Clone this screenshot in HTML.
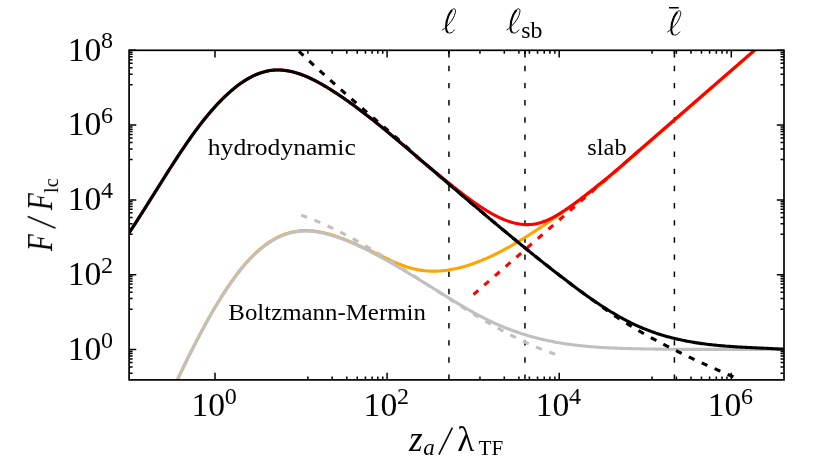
<!DOCTYPE html>
<html><head><meta charset="utf-8"><title>chart</title><style>html,body{margin:0;padding:0;background:#fff}body{width:829px;height:461px;overflow:hidden}</style></head><body>
<svg width="829" height="461" viewBox="0 0 829 461" style="display:block">
<rect width="829" height="461" fill="#fff"/>
<defs><clipPath id="c"><rect x="129.1" y="50.3" width="654.9" height="329.6"/></clipPath></defs>
<g clip-path="url(#c)" fill="none" stroke-linejoin="round" stroke-width="3.1">
<path d="M448.95,379.90 V50.30" stroke="#000" stroke-width="1.5" stroke-dasharray="5.4 11.75"/>
<path d="M524.96,379.90 V50.30" stroke="#000" stroke-width="1.5" stroke-dasharray="5.4 11.75"/>
<path d="M674.40,379.90 V50.30" stroke="#000" stroke-width="1.5" stroke-dasharray="5.4 11.75"/>
<path d="M176.80,380.85 L178.32,377.64 L179.84,374.44 L181.37,371.25 L182.89,368.09 L184.41,364.95 L185.93,361.84 L187.45,358.74 L188.97,355.67 L190.50,352.62 L192.02,349.59 L193.54,346.59 L195.06,343.62 L196.58,340.67 L198.11,337.75 L199.63,334.85 L201.15,331.98 L202.67,329.15 L204.19,326.34 L205.71,323.56 L207.24,320.81 L208.76,318.09 L210.28,315.40 L211.80,312.75 L213.32,310.13 L214.85,307.54 L216.37,304.99 L217.89,302.47 L219.41,299.99 L220.93,297.54 L222.45,295.13 L223.98,292.76 L225.50,290.43 L227.02,288.13 L228.54,285.88 L230.06,283.66 L231.58,281.49 L233.11,279.35 L234.63,277.26 L236.15,275.21 L237.67,273.21 L239.19,271.25 L240.72,269.33 L242.24,267.46 L243.76,265.63 L245.28,263.85 L246.80,262.12 L248.32,260.43 L249.85,258.80 L251.37,257.21 L252.89,255.67 L254.41,254.18 L255.93,252.74 L257.46,251.34 L258.98,250.00 L260.50,248.70 L262.02,247.45 L263.54,246.25 L265.06,245.09 L266.59,243.98 L268.11,242.91 L269.63,241.90 L271.15,240.92 L272.67,240.00 L274.20,239.12 L275.72,238.28 L277.24,237.49 L278.76,236.74 L280.28,236.04 L281.80,235.39 L283.33,234.77 L284.85,234.20 L286.37,233.68 L287.89,233.19 L289.41,232.75 L290.94,232.36 L292.46,232.00 L293.98,231.69 L295.50,231.42 L297.02,231.19 L298.54,230.99 L300.07,230.84 L301.59,230.73 L303.11,230.65 L304.63,230.60 L306.15,230.60 L307.68,230.62 L309.20,230.68 L310.72,230.78 L312.24,230.90 L313.76,231.05 L315.28,231.24 L316.81,231.45 L318.33,231.69 L319.85,231.96 L321.37,232.26 L322.89,232.58 L324.42,232.92 L325.94,233.29 L327.46,233.68 L328.98,234.09 L330.50,234.53 L332.02,234.98 L333.55,235.45 L335.07,235.95 L336.59,236.45 L338.11,236.98 L339.63,237.52 L341.15,238.08 L342.68,238.65 L344.20,239.23 L345.72,239.83 L347.24,240.44 L348.76,241.07 L350.29,241.70 L351.81,242.35 L353.33,243.02 L354.85,243.69 L356.37,244.38 L357.89,245.07 L359.42,245.78 L360.94,246.50 L362.46,247.23 L363.98,247.97 L364.40,247.89 L365.80,248.53 L367.20,249.17 L368.59,249.83 L369.99,250.50 L371.39,251.16 L372.79,251.84 L374.19,252.52 L375.58,253.20 L376.98,253.88 L378.38,254.56 L379.78,255.24 L381.18,255.92 L382.57,256.60 L383.97,257.27 L385.37,257.94 L386.77,258.61 L388.17,259.26 L389.56,259.91 L390.96,260.55 L392.36,261.18 L393.76,261.80 L395.16,262.41 L396.55,263.00 L397.95,263.58 L399.35,264.15 L400.75,264.70 L402.15,265.23 L403.54,265.74 L404.94,266.24 L406.34,266.71 L407.74,267.16 L409.14,267.59 L410.53,268.00 L411.93,268.38 L413.33,268.74 L414.73,269.07 L416.13,269.38 L417.52,269.66 L418.92,269.91 L420.32,270.14 L421.72,270.35 L423.12,270.53 L424.51,270.69 L425.91,270.83 L427.31,270.94 L428.71,271.03 L430.11,271.09 L431.50,271.14 L432.90,271.16 L434.30,271.16 L435.70,271.14 L437.10,271.10 L438.49,271.03 L439.89,270.95 L441.29,270.85 L442.69,270.72 L444.09,270.58 L445.48,270.42 L446.88,270.23 L448.28,270.03 L449.68,269.82 L451.08,269.58 L452.47,269.32 L453.87,269.05 L455.27,268.76 L456.67,268.46 L458.07,268.14 L459.46,267.80 L460.86,267.44 L462.26,267.07 L463.66,266.69 L465.06,266.29 L466.45,265.87 L467.85,265.44 L469.25,264.99 L470.65,264.53 L472.04,264.06 L473.44,263.57 L474.84,263.07 L476.24,262.55 L477.64,262.02 L479.03,261.48 L480.43,260.92 L481.83,260.35 L483.23,259.77 L484.63,259.18 L486.02,258.57 L487.42,257.95 L488.82,257.32 L490.22,256.68 L491.62,256.03 L493.01,255.36 L494.41,254.69 L495.81,254.00 L497.21,253.30 L498.61,252.59 L500.00,251.87 L501.40,251.15 L502.80,250.41 L504.20,249.66 L505.60,248.90 L506.99,248.13 L508.39,247.36 L509.79,246.57 L511.19,245.78 L512.59,244.97 L513.98,244.16 L515.38,243.34 L516.78,242.52 L518.18,241.68 L519.58,240.84 L520.97,239.99 L522.37,239.13 L523.77,238.27 L525.17,237.40 L526.57,236.52 L527.96,235.64 L529.36,234.75 L530.76,233.85 L532.16,232.95 L533.56,232.04 L534.95,231.13 L536.35,230.21 L537.75,229.29 L539.15,228.36 L540.55,227.42 L541.94,226.49 L543.34,225.55 L544.74,224.60 L546.14,223.65 L547.54,222.70 L548.93,221.74 L550.33,220.78 L551.73,219.82 L553.13,218.86 L554.53,217.89 L555.92,216.92 L557.32,215.94 L558.72,214.97 L560.12,213.99 L561.52,213.01 L562.91,212.03 L564.31,211.05 L565.71,210.07 L567.11,209.09 L568.51,208.10 L569.90,207.12 L571.30,206.14 L572.70,205.15 L600.00,185.02 L760.00,45.93" stroke="#ffa500"/>
<path d="M301.20,215.15 L301.84,215.38 L302.48,215.61 L303.12,215.84 L303.76,216.07 L304.40,216.30 L305.04,216.53 L305.68,216.77 L306.32,217.01 L306.97,217.25 L307.61,217.49 L308.25,217.73 L308.89,217.98 L309.53,218.23 L310.17,218.48 L310.81,218.73 L311.45,218.98 L312.09,219.24 L312.73,219.49 L313.37,219.75 L314.01,220.01 L314.65,220.27 L315.29,220.54 L315.93,220.80 L316.57,221.07 L317.22,221.34 L317.86,221.61 L318.50,221.88 L319.14,222.16 L319.78,222.43 L320.42,222.71 L321.06,222.99 L321.70,223.27 L322.34,223.55 L322.98,223.84 L323.62,224.12 L324.26,224.41 L324.90,224.70 L325.54,224.99 L326.18,225.28 L326.82,225.58 L327.46,225.87 L328.11,226.17 L328.75,226.47 L329.39,226.77 L330.03,227.07 L330.67,227.37 L331.31,227.68 L331.95,227.98 L332.59,228.29 L333.23,228.60 L333.87,228.91 L334.51,229.22 L335.15,229.54 L335.79,229.85 L336.43,230.17 L337.07,230.49 L337.71,230.81 L338.35,231.13 L339.00,231.45 L339.64,231.77 L340.28,232.10 L340.92,232.42 L341.56,232.75 L342.20,233.08 L342.84,233.41 L343.48,233.74 L344.12,234.07 L344.76,234.41 L345.40,234.74 L346.04,235.08 L346.68,235.42 L347.32,235.75 L347.96,236.09 L348.60,236.44 L349.25,236.78 L349.89,237.12 L350.53,237.47 L351.17,237.81 L351.81,238.16 L352.45,238.51 L353.09,238.86 L353.73,239.21 L354.37,239.56 L355.01,239.92 L355.65,240.27 L356.29,240.63 L356.93,240.98 L357.57,241.34 L358.21,241.70 L358.85,242.06 L359.49,242.42 L360.14,242.78 L360.78,243.15 L361.42,243.51 L362.06,243.88 L362.70,244.24 L363.34,244.61 L363.98,244.98 L364.62,245.35 L365.26,245.72 L365.90,246.09 L366.54,246.46 L367.18,246.83 L367.82,247.21 L368.46,247.58 L369.10,247.96 L369.74,248.33 L370.38,248.71 L371.03,249.09 L371.67,249.47 L372.31,249.85 L372.95,250.23 L373.59,250.61 L374.23,251.00 L374.87,251.38 L375.51,251.76 L376.15,252.15 L376.79,252.53 L377.43,252.92 L378.07,253.31 L378.71,253.70 L379.35,254.09 L379.99,254.48 L380.63,254.87 L381.28,255.26 L381.92,255.65 L382.56,256.04 L383.20,256.44 L383.84,256.83 L384.48,257.22 L385.12,257.62 L385.76,258.02 L386.40,258.41 L387.04,258.81 L387.68,259.21 L388.32,259.61 L388.96,260.00 L389.60,260.40 L390.24,260.80 L390.88,261.21 L391.52,261.61 L392.17,262.01 L392.81,262.41 L393.45,262.81 L394.09,263.22 L394.73,263.62 L395.37,264.03 L396.01,264.43 L396.65,264.84 L397.29,265.24 L397.93,265.65 L398.57,266.06 L399.21,266.46 L399.85,266.87 L400.49,267.28 L401.13,267.69 L401.77,268.10 L402.42,268.51 L403.06,268.92 L403.70,269.33 L404.34,269.74 L404.98,270.15 L405.62,270.56 L406.26,270.97 L406.90,271.38 L407.54,271.79 L408.18,272.21 L408.82,272.62 L409.46,273.03 L410.10,273.45 L410.74,273.86 L411.38,274.27 L412.02,274.69 L412.66,275.10 L413.31,275.52 L413.95,275.93 L414.59,276.35 L415.23,276.76 L415.87,277.18 L416.51,277.59 L417.15,278.01 L417.79,278.42 L418.43,278.84 L419.07,279.25 L419.71,279.67 L420.35,280.09 L420.99,280.50 L421.63,280.92 L422.27,281.34 L422.91,281.75 L423.55,282.17 L424.20,282.59 L424.84,283.00 L425.48,283.42 L426.12,283.84 L426.76,284.25 L427.40,284.67 L428.04,285.09 L428.68,285.50 L429.32,285.92 L429.96,286.34 L430.60,286.75 L431.24,287.17 L431.88,287.59 L432.52,288.00 L433.16,288.42 L433.80,288.83 L434.45,289.25 L435.09,289.67 L435.73,290.08 L436.37,290.50 L437.01,290.91 L437.65,291.33 L438.29,291.74 L438.93,292.16 L439.57,292.57 L440.21,292.99 L440.85,293.40 L441.49,293.82 L442.13,294.23 L442.77,294.64 L443.41,295.06 L444.05,295.47 L444.69,295.88 L445.34,296.29 L445.98,296.71 L446.62,297.12 L447.26,297.53 L447.90,297.94 L448.54,298.35 L449.18,298.76 L449.82,299.17 L450.46,299.58 L451.10,299.99 L451.74,300.40 L452.38,300.81 L453.02,301.22 L453.66,301.63 L454.30,302.03 L454.94,302.44 L455.58,302.85 L456.23,303.25 L456.87,303.66 L457.51,304.06 L458.15,304.47 L458.79,304.87 L459.43,305.28 L460.07,305.68 L460.71,306.08 L461.35,306.48 L461.99,306.89 L462.63,307.29 L463.27,307.69 L463.91,308.09 L464.55,308.49 L465.19,308.89 L465.83,309.28 L466.48,309.68 L467.12,310.08 L467.76,310.47 L468.40,310.87 L469.04,311.26 L469.68,311.66 L470.32,312.05 L470.96,312.44 L471.60,312.84 L472.24,313.23 L472.88,313.62 L473.52,314.01 L474.16,314.40 L474.80,314.79 L475.44,315.17 L476.08,315.56 L476.72,315.95 L477.37,316.33 L478.01,316.72 L478.65,317.10 L479.29,317.48 L479.93,317.87 L480.57,318.25 L481.21,318.63 L481.85,319.01 L482.49,319.39 L483.13,319.76 L483.77,320.14 L484.41,320.52 L485.05,320.89 L485.69,321.27 L486.33,321.64 L486.97,322.01 L487.62,322.38 L488.26,322.75 L488.90,323.12 L489.54,323.49 L490.18,323.86 L490.82,324.22 L491.46,324.59 L492.10,324.95 L492.74,325.32 L493.38,325.68 L494.02,326.04 L494.66,326.40 L495.30,326.76 L495.94,327.12 L496.58,327.48 L497.22,327.83 L497.86,328.19 L498.51,328.54 L499.15,328.89 L499.79,329.24 L500.43,329.59 L501.07,329.94 L501.71,330.29 L502.35,330.64 L502.99,330.98 L503.63,331.33 L504.27,331.67 L504.91,332.01 L505.55,332.35 L506.19,332.69 L506.83,333.03 L507.47,333.37 L508.11,333.70 L508.75,334.04 L509.40,334.37 L510.04,334.70 L510.68,335.03 L511.32,335.36 L511.96,335.69 L512.60,336.02 L513.24,336.34 L513.88,336.66 L514.52,336.99 L515.16,337.31 L515.80,337.63 L516.44,337.95 L517.08,338.26 L517.72,338.58 L518.36,338.89 L519.00,339.20 L519.65,339.51 L520.29,339.82 L520.93,340.13 L521.57,340.44 L522.21,340.74 L522.85,341.05 L523.49,341.35 L524.13,341.65 L524.77,341.95 L525.41,342.25 L526.05,342.54 L526.69,342.84 L527.33,343.13 L527.97,343.42 L528.61,343.71 L529.25,344.00 L529.89,344.28 L530.54,344.57 L531.18,344.85 L531.82,345.13 L532.46,345.41 L533.10,345.69 L533.74,345.97 L534.38,346.24 L535.02,346.51 L535.66,346.78 L536.30,347.05 L536.94,347.32 L537.58,347.59 L538.22,347.85 L538.86,348.12 L539.50,348.38 L540.14,348.64 L540.78,348.89 L541.43,349.15 L542.07,349.40 L542.71,349.65 L543.35,349.90 L543.99,350.15 L544.63,350.40 L545.27,350.64 L545.91,350.88 L546.55,351.13 L547.19,351.36 L547.83,351.60 L548.47,351.84 L549.11,352.07 L549.75,352.30 L550.39,352.53 L551.03,352.76 L551.68,352.98 L552.32,353.21 L552.96,353.43 L553.60,353.65 L554.24,353.86 L554.88,354.08 L555.52,354.29 L556.16,354.50 L556.80,354.71" stroke="#c0c0c0" stroke-dasharray="6.3 7.9"/>
<path d="M176.80,381.30 L178.32,378.09 L179.84,374.89 L181.37,371.70 L182.89,368.54 L184.41,365.40 L185.93,362.29 L187.45,359.19 L188.97,356.12 L190.50,353.07 L192.02,350.04 L193.54,347.04 L195.06,344.07 L196.58,341.12 L198.11,338.20 L199.63,335.30 L201.15,332.43 L202.67,329.60 L204.19,326.79 L205.71,324.01 L207.24,321.26 L208.76,318.54 L210.28,315.85 L211.80,313.20 L213.32,310.58 L214.85,307.99 L216.37,305.44 L217.89,302.92 L219.41,300.44 L220.93,297.99 L222.45,295.58 L223.98,293.21 L225.50,290.88 L227.02,288.58 L228.54,286.33 L230.06,284.11 L231.58,281.94 L233.11,279.80 L234.63,277.71 L236.15,275.66 L237.67,273.66 L239.19,271.70 L240.72,269.78 L242.24,267.91 L243.76,266.08 L245.28,264.30 L246.80,262.57 L248.32,260.88 L249.85,259.25 L251.37,257.66 L252.89,256.12 L254.41,254.63 L255.93,253.19 L257.46,251.79 L258.98,250.45 L260.50,249.15 L262.02,247.90 L263.54,246.70 L265.06,245.54 L266.59,244.43 L268.11,243.36 L269.63,242.35 L271.15,241.37 L272.67,240.45 L274.20,239.57 L275.72,238.73 L277.24,237.94 L278.76,237.19 L280.28,236.49 L281.80,235.84 L283.33,235.22 L284.85,234.65 L286.37,234.13 L287.89,233.64 L289.41,233.20 L290.94,232.81 L292.46,232.45 L293.98,232.14 L295.50,231.87 L297.02,231.64 L298.54,231.44 L300.07,231.29 L301.59,231.18 L303.11,231.10 L304.63,231.05 L306.15,231.05 L307.68,231.07 L309.20,231.13 L310.72,231.23 L312.24,231.35 L313.76,231.50 L315.28,231.69 L316.81,231.90 L318.33,232.14 L319.85,232.41 L321.37,232.71 L322.89,233.03 L324.42,233.37 L325.94,233.74 L327.46,234.13 L328.98,234.54 L330.50,234.98 L332.02,235.43 L333.55,235.90 L335.07,236.40 L336.59,236.90 L338.11,237.43 L339.63,237.97 L341.15,238.53 L342.68,239.10 L344.20,239.68 L345.72,240.28 L347.24,240.89 L348.76,241.52 L350.29,242.15 L351.81,242.80 L353.33,243.47 L354.85,244.14 L356.37,244.83 L357.89,245.52 L359.42,246.23 L360.94,246.95 L362.46,247.68 L363.98,248.42 L365.50,249.16 L367.03,249.92 L368.55,250.69 L370.07,251.46 L371.59,252.25 L373.11,253.04 L374.63,253.84 L376.16,254.65 L377.68,255.47 L379.20,256.29 L380.72,257.12 L382.24,257.95 L383.77,258.79 L385.29,259.64 L386.81,260.49 L388.33,261.35 L389.85,262.21 L391.37,263.08 L392.90,263.95 L394.42,264.83 L395.94,265.71 L397.46,266.60 L398.98,267.49 L400.51,268.38 L402.03,269.28 L403.55,270.18 L405.07,271.08 L406.59,271.99 L408.11,272.90 L409.64,273.81 L411.16,274.73 L412.68,275.65 L414.20,276.57 L415.72,277.49 L417.25,278.42 L418.77,279.35 L420.29,280.28 L421.81,281.22 L423.33,282.15 L424.85,283.09 L426.38,284.03 L427.90,284.97 L429.42,285.91 L430.94,286.85 L432.46,287.79 L433.98,288.74 L435.51,289.68 L437.03,290.63 L438.55,291.57 L440.07,292.52 L441.59,293.47 L443.12,294.41 L444.64,295.35 L446.16,296.30 L447.68,297.24 L449.20,298.18 L450.72,299.11 L452.25,300.04 L453.77,300.97 L455.29,301.90 L456.81,302.82 L458.33,303.74 L459.86,304.65 L461.38,305.55 L462.90,306.45 L464.42,307.35 L465.94,308.23 L467.46,309.11 L468.99,309.99 L470.51,310.85 L472.03,311.71 L473.55,312.56 L475.07,313.40 L476.60,314.23 L478.12,315.05 L479.64,315.86 L481.16,316.66 L482.68,317.44 L484.20,318.22 L485.73,318.99 L487.25,319.74 L488.77,320.48 L490.29,321.21 L491.81,321.93 L493.34,322.63 L494.86,323.33 L496.38,324.01 L497.90,324.68 L499.42,325.33 L500.94,325.98 L502.47,326.61 L503.99,327.24 L505.51,327.85 L507.03,328.45 L508.55,329.04 L510.08,329.61 L511.60,330.18 L513.12,330.73 L514.64,331.28 L516.16,331.81 L517.68,332.33 L519.21,332.85 L520.73,333.35 L522.25,333.84 L523.77,334.32 L525.29,334.79 L526.82,335.25 L528.34,335.70 L529.86,336.14 L531.38,336.57 L532.90,336.99 L534.42,337.40 L535.95,337.80 L537.47,338.19 L538.99,338.57 L540.51,338.95 L542.03,339.31 L543.55,339.66 L545.08,340.01 L546.60,340.34 L548.12,340.67 L549.64,340.99 L551.16,341.29 L552.69,341.59 L554.21,341.89 L555.73,342.17 L557.25,342.44 L558.77,342.71 L560.29,342.97 L561.82,343.22 L563.34,343.46 L564.86,343.70 L566.38,343.92 L567.90,344.14 L569.43,344.36 L570.95,344.56 L572.47,344.76 L573.99,344.96 L575.51,345.14 L577.03,345.32 L578.56,345.49 L580.08,345.66 L581.60,345.82 L583.12,345.98 L584.64,346.13 L586.17,346.27 L587.69,346.41 L589.21,346.54 L590.73,346.67 L592.25,346.79 L593.77,346.91 L595.30,347.02 L596.82,347.13 L598.34,347.23 L599.86,347.33 L601.38,347.43 L602.91,347.52 L604.43,347.61 L605.95,347.69 L607.47,347.77 L608.99,347.84 L610.51,347.92 L612.04,347.99 L613.56,348.05 L615.08,348.11 L616.60,348.17 L618.12,348.23 L619.65,348.29 L621.17,348.34 L622.69,348.39 L624.21,348.44 L625.73,348.48 L627.25,348.53 L628.78,348.57 L630.30,348.61 L631.82,348.65 L633.34,348.69 L634.86,348.72 L636.38,348.76 L637.91,348.79 L639.43,348.82 L640.95,348.86 L642.47,348.89 L643.99,348.92 L645.52,348.94 L647.04,348.97 L648.56,349.00 L650.08,349.02 L651.60,349.05 L653.12,349.07 L654.65,349.09 L656.17,349.11 L657.69,349.13 L659.21,349.15 L660.73,349.17 L662.26,349.19 L663.78,349.20 L665.30,349.22 L666.82,349.23 L668.34,349.25 L669.86,349.26 L671.39,349.27 L672.91,349.28 L674.43,349.29 L675.95,349.30 L677.47,349.31 L679.00,349.32 L680.52,349.33 L682.04,349.34 L683.56,349.34 L685.08,349.35 L686.60,349.35 L688.13,349.36 L689.65,349.36 L691.17,349.37 L692.69,349.37 L694.21,349.37 L695.74,349.38 L697.26,349.38 L698.78,349.38 L700.30,349.38 L701.82,349.38 L703.34,349.38 L704.87,349.38 L706.39,349.38 L707.91,349.38 L709.43,349.38 L710.95,349.38 L712.48,349.38 L714.00,349.38 L715.52,349.37 L717.04,349.37 L718.56,349.37 L720.08,349.37 L721.61,349.37 L723.13,349.36 L724.65,349.36 L726.17,349.36 L727.69,349.36 L729.22,349.35 L730.74,349.35 L732.26,349.35 L733.78,349.34 L735.30,349.34 L736.82,349.34 L738.35,349.34 L739.87,349.34 L741.39,349.33 L742.91,349.33 L744.43,349.33 L745.95,349.33 L747.48,349.33 L749.00,349.33 L750.52,349.33 L752.04,349.33 L753.56,349.33 L755.09,349.33 L756.61,349.33 L758.13,349.33 L759.65,349.33 L761.17,349.33 L762.69,349.33 L764.22,349.33 L765.74,349.34 L767.26,349.34 L768.78,349.35 L770.30,349.35 L771.83,349.36 L773.35,349.36 L774.87,349.37 L776.39,349.37 L777.91,349.38 L779.43,349.39 L780.96,349.40 L782.48,349.41 L784.00,349.42" stroke="#c0c0c0"/>
<path d="M473.50,294.50 L640.00,149.75" stroke="#ff0000" stroke-dasharray="6.3 7.9"/>
<path d="M298.90,51.28 L299.63,51.97 L300.35,52.65 L301.08,53.34 L301.80,54.03 L302.53,54.71 L303.25,55.39 L303.98,56.07 L304.70,56.76 L305.43,57.44 L306.15,58.12 L306.88,58.79 L307.60,59.47 L308.33,60.15 L309.06,60.82 L309.78,61.50 L310.51,62.17 L311.23,62.84 L311.96,63.51 L312.68,64.18 L313.41,64.85 L314.13,65.52 L314.86,66.19 L315.58,66.85 L316.31,67.52 L317.03,68.18 L317.76,68.85 L318.49,69.51 L319.21,70.17 L319.94,70.83 L320.66,71.49 L321.39,72.15 L322.11,72.81 L322.84,73.47 L323.56,74.13 L324.29,74.78 L325.01,75.44 L325.74,76.09 L326.46,76.75 L327.19,77.40 L327.92,78.05 L328.64,78.70 L329.37,79.35 L330.09,80.00 L330.82,80.65 L331.54,81.30 L332.27,81.95 L332.99,82.60 L333.72,83.25 L334.44,83.89 L335.17,84.54 L335.89,85.18 L336.62,85.83 L337.34,86.47 L338.07,87.11 L338.80,87.76 L339.52,88.40 L340.25,89.04 L340.97,89.68 L341.70,90.32 L342.42,90.96 L343.15,91.60 L343.87,92.24 L344.60,92.88 L345.32,93.51 L346.05,94.15 L346.77,94.79 L347.50,95.42 L348.23,96.06 L348.95,96.70 L349.68,97.33 L350.40,97.97 L351.13,98.60 L351.85,99.23 L352.58,99.87 L353.30,100.50 L354.03,101.13 L354.75,101.77 L355.48,102.40 L356.20,103.03 L356.93,103.66 L357.66,104.29 L358.38,104.92 L359.11,105.55 L359.83,106.18 L360.56,106.81 L361.28,107.44 L362.01,108.07 L362.73,108.70 L363.46,109.33 L364.18,109.96 L364.91,110.58 L365.63,111.21 L366.36,111.84 L367.09,112.47 L367.81,113.10 L368.54,113.72 L369.26,114.35 L369.99,114.98 L370.71,115.60 L371.44,116.23 L372.16,116.86 L372.89,117.49 L373.61,118.11 L374.34,118.74 L375.06,119.36 L375.79,119.99 L376.52,120.62 L377.24,121.24 L377.97,121.87 L378.69,122.50 L379.42,123.12 L380.14,123.75 L380.87,124.37 L381.59,125.00 L382.32,125.62 L383.04,126.25 L383.77,126.88 L384.49,127.50 L385.22,128.13 L385.95,128.75 L386.67,129.38 L387.40,130.00 L388.12,130.63 L388.85,131.25 L389.57,131.88 L390.30,132.50 L391.02,133.13 L391.75,133.75 L392.47,134.38 L393.20,135.00 L393.92,135.63 L394.65,136.25 L395.37,136.87 L396.10,137.50 L396.83,138.12 L397.55,138.75 L398.28,139.37 L399.00,139.99 L399.73,140.62 L400.45,141.27 L401.18,141.95 L401.90,142.62 L402.63,143.29 L403.35,143.97 L404.08,144.64 L404.80,145.31 L405.53,145.98 L406.26,146.65 L406.98,147.32 L407.71,147.99 L408.43,148.65 L409.16,149.32 L409.88,149.99 L410.61,150.66 L411.33,151.33 L412.06,151.99 L412.78,152.66 L413.51,153.33 L414.23,154.00 L414.96,154.66 L415.69,155.33 L416.41,156.00 L417.14,156.66 L417.86,157.33 L418.59,158.00 L419.31,158.66 L420.04,159.33 L420.76,159.95 L421.49,160.57 L422.21,161.19 L422.94,161.81 L423.66,162.43 L424.39,163.05 L425.12,163.67 L425.84,164.29 L426.57,164.91 L427.29,165.53 L428.02,166.15 L428.74,166.77 L429.47,167.39 L430.19,168.02 L430.92,168.64 L431.64,169.26 L432.37,169.88 L433.09,170.50 L433.82,171.12 L434.55,171.74 L435.27,172.36 L436.00,172.98 L436.72,173.61 L437.45,174.23 L438.17,174.85 L438.90,175.47 L439.62,176.09 L440.35,176.71 L441.07,177.33 L441.80,177.95 L442.52,178.57 L443.25,179.19 L443.98,179.81 L444.70,180.44 L445.43,181.06 L446.15,181.68 L446.88,182.30 L447.60,182.92 L448.33,183.54 L449.05,184.16 L449.78,184.78 L450.50,185.40 L451.23,186.02 L451.95,186.64 L452.68,187.26 L453.41,187.88 L454.13,188.50 L454.86,189.12 L455.58,189.74 L456.31,190.36 L457.03,190.97 L457.76,191.59 L458.48,192.21 L459.21,192.83 L459.93,193.45 L460.66,194.07 L461.38,194.69 L462.11,195.31 L462.83,195.92 L463.56,196.54 L464.29,197.16 L465.01,197.78 L465.74,198.39 L466.46,199.01 L467.19,199.63 L467.91,200.25 L468.64,200.86 L469.36,201.48 L470.09,202.09 L470.81,202.71 L471.54,203.33 L472.26,203.94 L472.99,204.56 L473.72,205.17 L474.44,205.79 L475.17,206.40 L475.89,207.02 L476.62,207.63 L477.34,208.25 L478.07,208.86 L478.79,209.47 L479.52,210.09 L480.24,210.70 L480.97,211.31 L481.69,211.93 L482.42,212.54 L483.15,213.15 L483.87,213.76 L484.60,214.37 L485.32,214.99 L486.05,215.60 L486.77,216.21 L487.50,216.82 L488.22,217.43 L488.95,218.04 L489.67,218.65 L490.40,219.26 L491.12,219.87 L491.85,220.48 L492.58,221.08 L493.30,221.69 L494.03,222.30 L494.75,222.91 L495.48,223.51 L496.20,224.12 L496.93,224.73 L497.65,225.33 L498.38,225.94 L499.10,226.54 L499.83,227.15 L500.55,227.75 L501.28,228.36 L502.01,228.96 L502.73,229.57 L503.46,230.17 L504.18,230.77 L504.91,231.37 L505.63,231.98 L506.36,232.58 L507.08,233.18 L507.81,233.78 L508.53,234.38 L509.26,234.98 L509.98,235.58 L510.71,236.18 L511.44,236.78 L512.16,237.38 L512.89,237.97 L513.61,238.57 L514.34,239.17 L515.06,239.77 L515.79,240.36 L516.51,240.96 L517.24,241.55 L517.96,242.15 L518.69,242.74 L519.41,243.34 L520.14,243.93 L520.86,244.52 L521.59,245.11 L522.32,245.71 L523.04,246.30 L523.77,246.89 L524.49,247.48 L525.22,248.07 L525.94,248.66 L526.67,249.25 L527.39,249.84 L528.12,250.43 L528.84,251.01 L529.57,251.60 L530.29,252.19 L531.02,252.77 L531.75,253.36 L532.47,253.94 L533.20,254.53 L533.92,255.11 L534.65,255.69 L535.37,256.28 L536.10,256.86 L536.82,257.44 L537.55,258.02 L538.27,258.60 L539.00,259.18 L539.72,259.76 L540.45,260.34 L541.18,260.92 L541.90,261.50 L542.63,262.07 L543.35,262.65 L544.08,263.23 L544.80,263.80 L545.53,264.38 L546.25,264.95 L546.98,265.52 L547.70,266.10 L548.43,266.67 L549.15,267.24 L549.88,267.81 L550.61,268.38 L551.33,268.95 L552.06,269.52 L552.78,270.09 L553.51,270.66 L554.23,271.22 L554.96,271.79 L555.68,272.35 L556.41,272.92 L557.13,273.48 L557.86,274.05 L558.58,274.61 L559.31,275.17 L560.04,275.74 L560.76,276.30 L561.49,276.86 L562.21,277.42 L562.94,277.97 L563.66,278.53 L564.39,279.09 L565.11,279.65 L565.84,280.20 L566.56,280.76 L567.29,281.31 L568.01,281.86 L568.74,282.41 L569.47,282.96 L570.19,283.51 L570.92,284.06 L571.64,284.61 L572.37,285.15 L573.09,285.70 L573.82,286.24 L574.54,286.79 L575.27,287.33 L575.99,287.87 L576.72,288.40 L577.44,288.94 L578.17,289.48 L578.89,290.01 L579.62,290.55 L580.35,291.08 L581.07,291.61 L581.80,292.14 L582.52,292.66 L583.25,293.19 L583.97,293.71 L584.70,294.23 L585.42,294.75 L586.15,295.27 L586.87,295.79 L587.60,296.30 L588.32,296.82 L589.05,297.33 L589.78,297.84 L590.50,298.37 L591.23,298.90 L591.95,299.43 L592.68,299.96 L593.40,300.50 L594.13,301.03 L594.85,301.56 L595.58,302.09 L596.30,302.62 L597.03,303.15 L597.75,303.68 L598.48,304.21 L599.21,304.75 L599.93,305.28 L600.66,305.81 L601.38,306.34 L602.11,306.87 L602.83,307.40 L603.56,307.93 L604.28,308.47 L605.01,309.00 L605.73,309.53 L606.46,310.07 L607.18,310.60 L607.91,311.14 L608.64,311.68 L609.36,312.21 L610.09,312.75 L610.81,313.23 L611.54,313.71 L612.26,314.20 L612.99,314.67 L613.71,315.15 L614.44,315.63 L615.16,316.10 L615.89,316.58 L616.61,317.05 L617.34,317.52 L618.07,317.99 L618.79,318.45 L619.52,318.92 L620.24,319.38 L620.97,319.84 L621.69,320.30 L622.42,320.76 L623.14,321.22 L623.87,321.67 L624.59,322.13 L625.32,322.58 L626.04,323.03 L626.77,323.48 L627.50,323.93 L628.22,324.38 L628.95,324.82 L629.67,325.26 L630.40,325.70 L631.12,326.14 L631.85,326.58 L632.57,327.02 L633.30,327.46 L634.02,327.89 L634.75,328.32 L635.47,328.75 L636.20,329.18 L636.93,329.61 L637.65,330.04 L638.38,330.46 L639.10,330.89 L639.83,331.31 L640.55,331.73 L641.28,332.15 L642.00,332.57 L642.73,332.98 L643.45,333.40 L644.18,333.81 L644.90,334.22 L645.63,334.63 L646.35,335.04 L647.08,335.45 L647.81,335.85 L648.53,336.26 L649.26,336.66 L649.98,337.07 L650.71,337.47 L651.43,337.87 L652.16,338.26 L652.88,338.66 L653.61,339.06 L654.33,339.45 L655.06,339.84 L655.78,340.23 L656.51,340.62 L657.24,341.01 L657.96,341.40 L658.69,341.79 L659.41,342.17 L660.14,342.56 L660.86,342.94 L661.59,343.32 L662.31,343.70 L663.04,344.08 L663.76,344.46 L664.49,344.84 L665.21,345.21 L665.94,345.59 L666.67,345.96 L667.39,346.33 L668.12,346.70 L668.84,347.07 L669.57,347.44 L670.29,347.81 L671.02,348.18 L671.74,348.54 L672.47,348.91 L673.19,349.27 L673.92,349.64 L674.64,350.00 L675.37,350.36 L676.10,350.72 L676.82,351.08 L677.55,351.43 L678.27,351.79 L679.00,352.15 L679.72,352.50 L680.45,352.86 L681.17,353.21 L681.90,353.56 L682.62,353.91 L683.35,354.26 L684.07,354.61 L684.80,354.96 L685.53,355.31 L686.25,355.65 L686.98,356.00 L687.70,356.34 L688.43,356.69 L689.15,357.03 L689.88,357.37 L690.60,357.72 L691.33,358.06 L692.05,358.40 L692.78,358.74 L693.50,359.08 L694.23,359.41 L694.96,359.75 L695.68,360.09 L696.41,360.42 L697.13,360.76 L697.86,361.09 L698.58,361.43 L699.31,361.76 L700.03,362.09 L700.76,362.42 L701.48,362.75 L702.21,363.08 L702.93,363.41 L703.66,363.74 L704.38,364.07 L705.11,364.40 L705.84,364.73 L706.56,365.05 L707.29,365.38 L708.01,365.71 L708.74,366.03 L709.46,366.35 L710.19,366.68 L710.91,367.00 L711.64,367.33 L712.36,367.65 L713.09,367.97 L713.81,368.29 L714.54,368.61 L715.27,368.93 L715.99,369.25 L716.72,369.57 L717.44,369.89 L718.17,370.21 L718.89,370.53 L719.62,370.85 L720.34,371.16 L721.07,371.48 L721.79,371.80 L722.52,372.12 L723.24,372.43 L723.97,372.75 L724.70,373.06 L725.42,373.38 L726.15,373.69 L726.87,374.01 L727.60,374.32 L728.32,374.64 L729.05,374.95 L729.77,375.26 L730.50,375.58 L731.22,375.89 L731.95,376.20 L732.67,376.51 L733.40,376.83" stroke="#000" stroke-dasharray="6.3 7.9"/>
<path d="M129.10,232.79 L130.19,231.14 L131.29,229.49 L132.38,227.83 L133.47,226.16 L134.57,224.48 L135.66,222.79 L136.75,221.10 L137.85,219.41 L138.94,217.70 L140.03,216.00 L141.13,214.28 L142.22,212.56 L143.31,210.84 L144.41,209.12 L145.50,207.39 L146.59,205.65 L147.69,203.92 L148.78,202.18 L149.87,200.44 L150.97,198.70 L152.06,196.96 L153.15,195.21 L154.25,193.47 L155.34,191.72 L156.43,189.98 L157.53,188.23 L158.62,186.49 L159.71,184.75 L160.81,183.01 L161.90,181.27 L162.99,179.54 L164.09,177.80 L165.18,176.07 L166.27,174.35 L167.37,172.63 L168.46,170.91 L169.55,169.20 L170.65,167.49 L171.74,165.79 L172.83,164.09 L173.93,162.40 L175.02,160.72 L176.11,159.04 L177.21,157.37 L178.30,155.71 L179.39,154.05 L180.49,152.41 L181.58,150.77 L182.67,149.14 L183.77,147.53 L184.86,145.92 L185.95,144.32 L187.05,142.73 L188.14,141.16 L189.23,139.59 L190.33,138.04 L191.42,136.50 L192.51,134.97 L193.61,133.46 L194.70,131.96 L195.79,130.47 L196.89,129.00 L197.98,127.54 L199.07,126.09 L200.17,124.66 L201.26,123.24 L202.35,121.84 L203.45,120.46 L204.54,119.09 L205.63,117.73 L206.73,116.39 L207.82,115.07 L208.91,113.76 L210.01,112.47 L211.10,111.20 L212.19,109.94 L213.29,108.69 L214.38,107.47 L215.47,106.26 L216.57,105.07 L217.66,103.89 L218.75,102.73 L219.85,101.59 L220.94,100.47 L222.03,99.36 L223.13,98.28 L224.22,97.21 L225.31,96.16 L226.41,95.12 L227.50,94.11 L228.59,93.11 L229.69,92.14 L230.78,91.18 L231.87,90.24 L232.97,89.32 L234.06,88.42 L235.15,87.54 L236.25,86.67 L237.34,85.83 L238.43,85.01 L239.53,84.21 L240.62,83.43 L241.71,82.67 L242.81,81.93 L243.90,81.21 L244.99,80.51 L246.09,79.83 L247.18,79.17 L248.27,78.54 L249.37,77.93 L250.46,77.33 L251.55,76.76 L252.65,76.22 L253.74,75.69 L254.83,75.19 L255.93,74.70 L257.02,74.24 L258.11,73.81 L259.21,73.40 L260.30,73.00 L261.39,72.64 L262.49,72.29 L263.58,71.97 L264.67,71.68 L265.77,71.40 L266.86,71.15 L267.95,70.93 L269.05,70.73 L270.14,70.55 L271.23,70.40 L272.33,70.27 L273.42,70.17 L274.51,70.09 L275.61,70.03 L276.70,69.99 L277.79,69.98 L278.89,69.99 L279.98,70.02 L281.07,70.07 L282.17,70.15 L283.26,70.24 L284.35,70.36 L285.45,70.49 L286.54,70.65 L287.63,70.82 L288.73,71.01 L289.82,71.23 L290.91,71.46 L292.01,71.71 L293.10,71.97 L294.19,72.26 L295.28,72.56 L296.38,72.88 L297.47,73.21 L298.56,73.57 L299.66,73.93 L300.75,74.32 L301.84,74.71 L302.94,75.13 L304.03,75.56 L305.12,76.00 L306.22,76.46 L307.31,76.93 L308.40,77.41 L309.50,77.91 L310.59,78.41 L311.68,78.94 L312.78,79.47 L313.87,80.01 L314.96,80.57 L316.06,81.14 L317.15,81.72 L318.24,82.31 L319.34,82.90 L320.43,83.51 L321.52,84.13 L322.62,84.76 L323.71,85.40 L324.80,86.04 L325.90,86.69 L326.99,87.35 L328.08,88.02 L329.18,88.70 L330.27,89.38 L331.36,90.07 L332.46,90.76 L333.55,91.46 L334.64,92.17 L335.74,92.88 L336.83,93.60 L337.92,94.32 L339.02,95.05 L340.11,95.79 L341.20,96.53 L342.30,97.27 L343.39,98.02 L344.48,98.78 L345.58,99.54 L346.67,100.31 L347.76,101.08 L348.86,101.85 L349.95,102.63 L351.04,103.42 L352.14,104.21 L353.23,105.00 L354.32,105.80 L355.42,106.61 L356.51,107.42 L357.60,108.23 L358.70,109.05 L359.79,109.87 L360.88,110.69 L361.98,111.52 L363.07,112.35 L364.16,113.19 L365.26,114.03 L366.35,114.87 L367.44,115.72 L368.54,116.57 L369.63,117.43 L370.72,118.29 L371.82,119.15 L372.91,120.01 L374.00,120.88 L375.10,121.75 L376.19,122.63 L377.28,123.50 L378.38,124.38 L379.47,125.27 L380.56,126.15 L381.66,127.04 L382.75,127.93 L383.84,128.82 L384.94,129.72 L386.03,130.62 L387.12,131.52 L388.22,132.42 L389.31,133.33 L390.40,134.23 L391.50,135.14 L392.59,136.05 L393.68,136.96 L394.78,137.88 L395.87,138.79 L396.96,139.71 L398.06,140.63 L399.15,141.55 L400.24,142.47 L401.34,143.40 L402.43,144.32 L403.52,145.25 L404.62,146.18 L405.71,147.10 L406.80,148.03 L407.90,148.96 L408.99,149.89 L410.08,150.82 L411.18,151.76 L412.27,152.69 L413.36,153.62 L414.46,154.56 L415.55,155.49 L416.50,156.95 L417.19,157.49 L417.88,158.03 L418.57,158.57 L419.25,159.11 L419.94,159.66 L420.63,160.20 L421.32,160.75 L422.01,161.30 L422.70,161.85 L423.38,162.40 L424.07,162.95 L424.76,163.50 L425.45,164.06 L426.14,164.61 L426.83,165.16 L427.51,165.72 L428.20,166.28 L428.89,166.83 L429.58,167.39 L430.27,167.95 L430.96,168.51 L431.64,169.07 L432.33,169.63 L433.02,170.19 L433.71,170.75 L434.40,171.31 L435.09,171.87 L435.77,172.43 L436.46,172.99 L437.15,173.55 L437.84,174.11 L438.53,174.67 L439.22,175.23 L439.90,175.79 L440.59,176.35 L441.28,176.92 L441.97,177.48 L442.66,178.03 L443.35,178.59 L444.04,179.15 L444.72,179.71 L445.41,180.27 L446.10,180.82 L446.79,181.38 L447.48,181.94 L448.17,182.49 L448.85,183.05 L449.54,183.60 L450.23,184.15 L450.92,184.70 L451.61,185.25 L452.30,185.80 L452.98,186.35 L453.67,186.89 L454.36,187.44 L455.05,187.98 L455.74,188.53 L456.43,189.07 L457.11,189.61 L457.80,190.15 L458.49,190.68 L459.18,191.22 L459.87,191.75 L460.56,192.28 L461.24,192.81 L461.93,193.34 L462.62,193.87 L463.31,194.39 L464.00,194.91 L464.69,195.43 L465.37,195.95 L466.06,196.47 L466.75,196.98 L467.44,197.49 L468.13,198.00 L468.82,198.51 L469.51,199.01 L470.19,199.51 L470.88,200.01 L471.57,200.51 L472.26,201.00 L472.95,201.50 L473.64,201.99 L474.32,202.47 L475.01,202.95 L475.70,203.44 L476.39,203.91 L477.08,204.39 L477.77,204.86 L478.45,205.33 L479.14,205.79 L479.83,206.25 L480.52,206.71 L481.21,207.17 L481.90,207.62 L482.58,208.07 L483.27,208.51 L483.96,208.95 L484.65,209.38 L485.34,209.82 L486.03,210.24 L486.71,210.67 L487.40,211.08 L488.09,211.50 L488.78,211.91 L489.47,212.31 L490.16,212.71 L490.84,213.11 L491.53,213.50 L492.22,213.88 L492.91,214.26 L493.60,214.64 L494.29,215.01 L494.97,215.37 L495.66,215.73 L496.35,216.08 L497.04,216.43 L497.73,216.77 L498.42,217.10 L499.11,217.43 L499.79,217.76 L500.48,218.07 L501.17,218.39 L501.86,218.69 L502.55,218.99 L503.24,219.28 L503.92,219.56 L504.61,219.84 L505.30,220.11 L505.99,220.38 L506.68,220.64 L507.37,220.89 L508.05,221.13 L508.74,221.36 L509.43,221.59 L510.12,221.81 L510.81,222.03 L511.50,222.23 L512.18,222.43 L512.87,222.62 L513.56,222.80 L514.25,222.98 L514.94,223.14 L515.63,223.30 L516.31,223.45 L517.00,223.59 L517.69,223.72 L518.38,223.84 L519.07,223.96 L519.76,224.06 L520.44,224.16 L521.13,224.25 L521.82,224.33 L522.51,224.40 L523.20,224.46 L523.89,224.51 L524.58,224.55 L525.26,224.58 L525.95,224.61 L526.64,224.62 L527.33,224.62 L528.02,224.62 L528.71,224.60 L529.39,224.57 L530.08,224.53 L530.77,224.49 L531.46,224.43 L532.15,224.36 L532.84,224.28 L533.52,224.19 L534.21,224.09 L534.90,223.98 L535.59,223.86 L536.28,223.72 L536.97,223.58 L537.65,223.42 L538.34,223.26 L539.03,223.08 L539.72,222.89 L540.41,222.69 L541.10,222.48 L541.78,222.27 L542.47,222.04 L543.16,221.80 L543.85,221.55 L544.54,221.29 L545.23,221.03 L545.91,220.75 L546.60,220.47 L547.29,220.17 L547.98,219.87 L548.67,219.56 L549.36,219.24 L550.05,218.92 L550.73,218.58 L551.42,218.24 L552.11,217.89 L552.80,217.54 L553.49,217.17 L554.18,216.80 L554.86,216.42 L555.55,216.04 L556.24,215.65 L556.93,215.25 L557.62,214.85 L558.31,214.44 L558.99,214.02 L559.68,213.60 L560.37,213.17 L561.06,212.74 L561.75,212.31 L562.44,211.86 L563.12,211.42 L563.81,210.96 L564.50,210.51 L565.19,210.05 L565.88,209.58 L566.57,209.11 L567.25,208.64 L567.94,208.17 L568.63,207.69 L569.32,207.20 L570.01,206.72 L570.70,206.23 L571.38,205.74 L572.07,205.24 L572.76,204.74 L573.45,204.24 L574.14,203.74 L574.83,203.24 L575.52,202.73 L576.20,202.22 L576.89,201.71 L577.58,201.20 L578.27,200.69 L578.96,200.17 L579.65,199.65 L580.33,199.13 L581.02,198.61 L581.71,198.08 L582.40,197.56 L583.09,197.03 L583.78,196.50 L584.46,195.97 L585.15,195.44 L585.84,194.90 L586.53,194.36 L587.22,193.83 L587.91,193.29 L588.59,192.75 L589.28,192.21 L589.97,191.66 L590.66,191.12 L591.35,190.57 L592.04,190.03 L592.72,189.48 L593.41,188.93 L594.10,188.38 L594.79,187.83 L595.48,187.27 L596.17,186.72 L596.85,186.17 L597.54,185.61 L598.23,185.06 L598.92,184.50 L599.61,183.94 L600.30,183.39 L600.98,182.86 L601.67,182.32 L602.36,181.77 L603.05,181.23 L603.74,180.68 L604.43,180.13 L605.12,179.58 L605.80,179.02 L606.49,178.46 L607.18,177.90 L607.87,177.34 L608.56,176.77 L609.25,176.21 L609.93,175.64 L610.62,175.07 L611.31,174.49 L612.00,173.92 L612.69,173.34 L613.38,172.76 L614.06,172.18 L614.75,171.60 L615.44,171.02 L616.13,170.43 L616.82,169.85 L617.51,169.26 L618.19,168.67 L618.88,168.08 L619.57,167.49 L620.26,166.90 L620.95,166.30 L621.64,165.71 L622.32,165.11 L623.01,164.52 L623.70,163.92 L624.39,163.32 L625.00,162.79 L760.00,45.43" stroke="#ff0000"/>
<path d="M129.10,232.79 L130.74,230.32 L132.38,227.82 L134.02,225.31 L135.67,222.79 L137.31,220.25 L138.95,217.69 L140.59,215.12 L142.23,212.55 L143.87,209.96 L145.51,207.36 L147.15,204.76 L148.80,202.15 L150.44,199.54 L152.08,196.92 L153.72,194.31 L155.36,191.69 L157.00,189.07 L158.64,186.45 L160.29,183.84 L161.93,181.23 L163.57,178.62 L165.21,176.03 L166.85,173.44 L168.49,170.86 L170.13,168.29 L171.78,165.73 L173.42,163.19 L175.06,160.66 L176.70,158.14 L178.34,155.65 L179.98,153.17 L181.62,150.71 L183.26,148.27 L184.91,145.85 L186.55,143.46 L188.19,141.09 L189.83,138.74 L191.47,136.43 L193.11,134.14 L194.75,131.88 L196.40,129.65 L198.04,127.46 L199.68,125.30 L201.32,123.17 L202.96,121.07 L204.60,119.01 L206.24,116.98 L207.88,114.99 L209.53,113.04 L211.17,111.12 L212.81,109.23 L214.45,107.39 L216.09,105.58 L217.73,103.81 L219.37,102.08 L221.02,100.39 L222.66,98.74 L224.30,97.13 L225.94,95.56 L227.58,94.03 L229.22,92.55 L230.86,91.10 L232.51,89.70 L234.15,88.35 L235.79,87.03 L237.43,85.76 L239.07,84.54 L240.71,83.36 L242.35,82.23 L243.99,81.15 L245.64,80.11 L247.28,79.12 L248.92,78.17 L250.56,77.28 L252.20,76.44 L253.84,75.64 L255.48,74.90 L257.13,74.20 L258.77,73.56 L260.41,72.97 L262.05,72.43 L263.69,71.94 L265.33,71.51 L266.97,71.13 L268.62,70.80 L270.26,70.53 L271.90,70.32 L273.54,70.16 L275.18,70.05 L276.82,69.99 L278.46,69.98 L280.10,70.02 L281.75,70.12 L283.39,70.25 L285.03,70.44 L286.67,70.67 L288.31,70.94 L289.95,71.25 L291.59,71.61 L293.24,72.01 L294.88,72.45 L296.52,72.92 L298.16,73.43 L299.80,73.98 L301.44,74.57 L303.08,75.18 L304.72,75.84 L306.37,76.52 L308.01,77.23 L309.65,77.97 L311.29,78.75 L312.93,79.54 L314.57,80.37 L316.21,81.22 L317.86,82.10 L319.50,82.99 L321.14,83.91 L322.78,84.85 L324.42,85.81 L326.06,86.79 L327.70,87.79 L329.35,88.80 L330.99,89.83 L332.63,90.87 L334.27,91.93 L335.91,92.99 L337.55,94.08 L339.19,95.17 L340.83,96.28 L342.48,97.39 L344.12,98.52 L345.76,99.67 L347.40,100.82 L349.04,101.98 L350.68,103.16 L352.32,104.34 L353.97,105.54 L355.61,106.75 L357.25,107.96 L358.89,109.19 L360.53,110.42 L362.17,111.67 L363.81,112.92 L365.45,114.18 L367.10,115.45 L368.74,116.73 L370.38,118.01 L372.02,119.31 L373.66,120.61 L375.30,121.92 L376.94,123.23 L378.59,124.55 L380.23,125.88 L381.87,127.21 L383.51,128.55 L385.15,129.89 L386.79,131.24 L388.43,132.60 L390.08,133.96 L391.72,135.32 L393.36,136.69 L395.00,138.06 L396.64,139.44 L398.28,140.82 L399.92,142.20 L401.56,143.59 L403.21,144.98 L404.85,146.37 L406.49,147.77 L408.13,149.16 L409.77,150.56 L411.41,151.96 L413.05,153.36 L414.70,154.76 L416.34,156.16 L417.98,157.56 L419.62,158.97 L421.26,160.37 L422.90,161.78 L424.54,163.18 L426.18,164.59 L427.83,165.99 L429.47,167.39 L431.11,168.80 L432.75,170.21 L434.39,171.61 L436.03,173.02 L437.67,174.42 L439.32,175.83 L440.96,177.23 L442.60,178.64 L444.24,180.04 L445.88,181.45 L447.52,182.85 L449.16,184.25 L450.81,185.66 L452.45,187.06 L454.09,188.46 L455.73,189.86 L457.37,191.26 L459.01,192.66 L460.65,194.06 L462.29,195.46 L463.94,196.86 L465.58,198.26 L467.22,199.66 L468.86,201.05 L470.50,202.45 L472.14,203.84 L473.78,205.23 L475.43,206.62 L477.07,208.01 L478.71,209.40 L480.35,210.79 L481.99,212.18 L483.63,213.56 L485.27,214.95 L486.92,216.33 L488.56,217.71 L490.20,219.09 L491.84,220.47 L493.48,221.84 L495.12,223.22 L496.76,224.59 L498.40,225.96 L500.05,227.33 L501.69,228.70 L503.33,230.06 L504.97,231.43 L506.61,232.79 L508.25,234.15 L509.89,235.51 L511.54,236.86 L513.18,238.21 L514.82,239.56 L516.46,240.91 L518.10,242.26 L519.74,243.60 L521.38,244.95 L523.02,246.29 L524.67,247.62 L526.31,248.96 L527.95,250.29 L529.59,251.62 L531.23,252.94 L532.87,254.27 L534.51,255.59 L536.16,256.91 L537.80,258.22 L539.44,259.53 L541.08,260.84 L542.72,262.15 L544.36,263.45 L546.00,264.75 L547.65,266.05 L549.29,267.34 L550.93,268.63 L552.57,269.92 L554.21,271.21 L555.85,272.49 L557.49,273.76 L559.13,275.04 L560.78,276.31 L562.42,277.57 L564.06,278.84 L565.70,280.10 L567.34,281.35 L568.98,282.60 L570.62,283.84 L572.27,285.08 L573.91,286.31 L575.55,287.54 L577.19,288.75 L578.83,289.97 L580.47,291.17 L582.11,292.37 L583.75,293.55 L585.40,294.73 L587.04,295.91 L588.68,297.07 L590.32,298.22 L591.96,299.36 L593.60,300.50 L595.24,301.62 L596.89,302.73 L598.53,303.83 L600.17,304.92 L601.81,306.00 L603.45,307.07 L605.09,308.12 L606.73,309.16 L608.38,310.19 L610.02,311.21 L611.66,312.21 L613.30,313.20 L614.94,314.17 L616.58,315.13 L618.22,316.07 L619.86,317.00 L621.51,317.91 L623.15,318.80 L624.79,319.68 L626.43,320.55 L628.07,321.39 L629.71,322.22 L631.35,323.03 L633.00,323.82 L634.64,324.60 L636.28,325.36 L637.92,326.10 L639.56,326.82 L641.20,327.52 L642.84,328.21 L644.48,328.88 L646.13,329.53 L647.77,330.17 L649.41,330.79 L651.05,331.40 L652.69,331.99 L654.33,332.56 L655.97,333.12 L657.62,333.67 L659.26,334.20 L660.90,334.72 L662.54,335.22 L664.18,335.70 L665.82,336.18 L667.46,336.64 L669.11,337.09 L670.75,337.52 L672.39,337.94 L674.03,338.35 L675.67,338.75 L677.31,339.13 L678.95,339.50 L680.59,339.86 L682.24,340.21 L683.88,340.55 L685.52,340.88 L687.16,341.19 L688.80,341.50 L690.44,341.80 L692.08,342.08 L693.73,342.36 L695.37,342.62 L697.01,342.88 L698.65,343.13 L700.29,343.37 L701.93,343.60 L703.57,343.82 L705.22,344.03 L706.86,344.24 L708.50,344.44 L710.14,344.63 L711.78,344.81 L713.42,344.99 L715.06,345.16 L716.70,345.32 L718.35,345.48 L719.99,345.63 L721.63,345.77 L723.27,345.91 L724.91,346.05 L726.55,346.18 L728.19,346.30 L729.84,346.42 L731.48,346.53 L733.12,346.64 L734.76,346.75 L736.40,346.85 L738.04,346.95 L739.68,347.05 L741.32,347.14 L742.97,347.23 L744.61,347.32 L746.25,347.40 L747.89,347.49 L749.53,347.57 L751.17,347.65 L752.81,347.72 L754.46,347.80 L756.10,347.88 L757.74,347.95 L759.38,348.02 L761.02,348.10 L762.66,348.17 L764.30,348.25 L765.95,348.32 L767.59,348.40 L769.23,348.47 L770.87,348.55 L772.51,348.63 L774.15,348.71 L775.79,348.79 L777.43,348.88 L779.08,348.96 L780.72,349.05 L782.36,349.14 L784.00,349.24" stroke="#000"/>
</g>
<path d="M215.00,379.90 v-7.2 M215.00,50.30 v7.2 M387.10,379.90 v-7.2 M387.10,50.30 v7.2 M307.86,379.90 v-3.5 M307.86,50.30 v3.5 M332.18,379.90 v-3.5 M332.18,50.30 v3.5 M346.78,379.90 v-3.5 M346.78,50.30 v3.5 M357.26,379.90 v-3.5 M357.26,50.30 v3.5 M365.43,379.90 v-3.5 M365.43,50.30 v3.5 M372.13,379.90 v-3.5 M372.13,50.30 v3.5 M377.81,379.90 v-3.5 M377.81,50.30 v3.5 M382.75,379.90 v-3.5 M382.75,50.30 v3.5 M559.20,379.90 v-7.2 M559.20,50.30 v7.2 M479.96,379.90 v-3.5 M479.96,50.30 v3.5 M504.28,379.90 v-3.5 M504.28,50.30 v3.5 M518.88,379.90 v-3.5 M518.88,50.30 v3.5 M529.36,379.90 v-3.5 M529.36,50.30 v3.5 M537.53,379.90 v-3.5 M537.53,50.30 v3.5 M544.23,379.90 v-3.5 M544.23,50.30 v3.5 M549.91,379.90 v-3.5 M549.91,50.30 v3.5 M554.85,379.90 v-3.5 M554.85,50.30 v3.5 M731.30,379.90 v-7.2 M731.30,50.30 v7.2 M652.06,379.90 v-3.5 M652.06,50.30 v3.5 M676.38,379.90 v-3.5 M676.38,50.30 v3.5 M690.98,379.90 v-3.5 M690.98,50.30 v3.5 M701.46,379.90 v-3.5 M701.46,50.30 v3.5 M709.63,379.90 v-3.5 M709.63,50.30 v3.5 M716.33,379.90 v-3.5 M716.33,50.30 v3.5 M722.01,379.90 v-3.5 M722.01,50.30 v3.5 M726.95,379.90 v-3.5 M726.95,50.30 v3.5 M129.10,349.50 h7.2 M784.00,349.50 h-7.2 M129.10,373.37 h3.5 M784.00,373.37 h-3.5 M129.10,367.02 h3.5 M784.00,367.02 h-3.5 M129.10,362.47 h3.5 M784.00,362.47 h-3.5 M129.10,358.92 h3.5 M784.00,358.92 h-3.5 M129.10,356.00 h3.5 M784.00,356.00 h-3.5 M129.10,353.54 h3.5 M784.00,353.54 h-3.5 M129.10,351.39 h3.5 M784.00,351.39 h-3.5 M129.10,274.70 h7.2 M784.00,274.70 h-7.2 M129.10,309.14 h3.5 M784.00,309.14 h-3.5 M129.10,298.57 h3.5 M784.00,298.57 h-3.5 M129.10,292.22 h3.5 M784.00,292.22 h-3.5 M129.10,287.67 h3.5 M784.00,287.67 h-3.5 M129.10,284.12 h3.5 M784.00,284.12 h-3.5 M129.10,281.20 h3.5 M784.00,281.20 h-3.5 M129.10,278.74 h3.5 M784.00,278.74 h-3.5 M129.10,276.59 h3.5 M784.00,276.59 h-3.5 M129.10,199.90 h7.2 M784.00,199.90 h-7.2 M129.10,234.34 h3.5 M784.00,234.34 h-3.5 M129.10,223.77 h3.5 M784.00,223.77 h-3.5 M129.10,217.42 h3.5 M784.00,217.42 h-3.5 M129.10,212.87 h3.5 M784.00,212.87 h-3.5 M129.10,209.32 h3.5 M784.00,209.32 h-3.5 M129.10,206.40 h3.5 M784.00,206.40 h-3.5 M129.10,203.94 h3.5 M784.00,203.94 h-3.5 M129.10,201.79 h3.5 M784.00,201.79 h-3.5 M129.10,125.10 h7.2 M784.00,125.10 h-7.2 M129.10,159.54 h3.5 M784.00,159.54 h-3.5 M129.10,148.97 h3.5 M784.00,148.97 h-3.5 M129.10,142.62 h3.5 M784.00,142.62 h-3.5 M129.10,138.07 h3.5 M784.00,138.07 h-3.5 M129.10,134.52 h3.5 M784.00,134.52 h-3.5 M129.10,131.60 h3.5 M784.00,131.60 h-3.5 M129.10,129.14 h3.5 M784.00,129.14 h-3.5 M129.10,126.99 h3.5 M784.00,126.99 h-3.5 M129.10,50.30 h7.2 M784.00,50.30 h-7.2 M129.10,84.74 h3.5 M784.00,84.74 h-3.5 M129.10,74.17 h3.5 M784.00,74.17 h-3.5 M129.10,67.82 h3.5 M784.00,67.82 h-3.5 M129.10,63.27 h3.5 M784.00,63.27 h-3.5 M129.10,59.72 h3.5 M784.00,59.72 h-3.5 M129.10,56.80 h3.5 M784.00,56.80 h-3.5 M129.10,54.34 h3.5 M784.00,54.34 h-3.5 M129.10,52.19 h3.5 M784.00,52.19 h-3.5 M448.95,50.30 v7.2 M524.96,50.30 v7.2 M674.40,50.30 v7.2" stroke="#000" stroke-width="1.5" fill="none"/>
<rect x="129.10" y="50.30" width="654.90" height="329.60" fill="none" stroke="#000" stroke-width="1.7"/>
<g font-family="Liberation Serif, serif" fill="#000" opacity="0.999">
<text x="67.7" y="359.7" font-size="33.6">10<tspan dy="-12.2" dx="-0.3" font-size="24">0</tspan></text>
<text x="67.7" y="284.9" font-size="33.6">10<tspan dy="-12.2" dx="-0.3" font-size="24">2</tspan></text>
<text x="67.7" y="210.1" font-size="33.6">10<tspan dy="-12.2" dx="-0.3" font-size="24">4</tspan></text>
<text x="67.7" y="135.3" font-size="33.6">10<tspan dy="-12.2" dx="-0.3" font-size="24">6</tspan></text>
<text x="67.7" y="60.5" font-size="33.6">10<tspan dy="-12.2" dx="-0.3" font-size="24">8</tspan></text>
<text x="191.5" y="416.2" font-size="33.6">10<tspan dy="-12.2" dx="-0.3" font-size="24">0</tspan></text>
<text x="363.6" y="416.2" font-size="33.6">10<tspan dy="-12.2" dx="-0.3" font-size="24">2</tspan></text>
<text x="535.7" y="416.2" font-size="33.6">10<tspan dy="-12.2" dx="-0.3" font-size="24">4</tspan></text>
<text x="707.8" y="416.2" font-size="33.6">10<tspan dy="-12.2" dx="-0.3" font-size="24">6</tspan></text>
<text x="207.8" y="155.4" font-size="24" textLength="148" lengthAdjust="spacingAndGlyphs">hydrodynamic</text>
<text x="587.3" y="155.1" font-size="24" textLength="39.3" lengthAdjust="spacingAndGlyphs">slab</text>
<text x="228.3" y="320.0" font-size="24" textLength="197.6" lengthAdjust="spacingAndGlyphs">Boltzmann-Mermin</text>
<text x="409.0" y="450.6" font-size="35" font-style="italic">z</text>
<text x="423.2" y="455.0" font-size="23" font-style="italic">a</text>
<path d="M438.9,454.6 L452.4,427.6" stroke="#000" stroke-width="1.6" fill="none"/>
<text x="457.3" y="450.6" font-size="35">λ</text>
<text x="478.6" y="455.3" font-size="22" textLength="24.7" lengthAdjust="spacingAndGlyphs">TF</text>
<g transform="translate(52.1,251.1) rotate(-90)">
<text x="0" y="0" font-size="35.5" font-style="italic" textLength="16.8" lengthAdjust="spacingAndGlyphs">F</text>
<path d="M22.9,3.5 L34.6,-24.4" stroke="#000" stroke-width="1.6" fill="none"/>
<text x="41.0" y="0" font-size="35.5" font-style="italic" textLength="16.8" lengthAdjust="spacingAndGlyphs">F</text>
<text x="58.0" y="5.5" font-size="21" textLength="14.8" lengthAdjust="spacingAndGlyphs">lc</text>
</g>
<defs><g id="ell" fill="none" stroke="#000" stroke-linecap="round"><path stroke-width="0.95" d="M-6.5,29.9 C-4,28.6 -0.5,25 2.5,21 C5,17.5 6.6,13 6.6,10.7 C6.6,9.2 5.6,8.6 4.6,8.8 C3.4,9 1.5,11.5 -0.2,15 C-1.6,18 -2.9,23.5 -2.9,27.5 C-2.9,31 -1.5,33.1 0.6,33.1 C2.5,33.1 4.3,31.6 5.5,29.9"/><path stroke-width="2.0" d="M2.6,10.6 C1.6,12 0.6,13.6 -0.2,15 C-1.6,18 -2.9,23.5 -2.9,27.5 C-2.9,29.6 -2.4,31.2 -1.5,32.2"/></g></defs>
<use href="#ell" x="448.95" y="0"/>
<use href="#ell" x="513.4" y="0"/>
<text x="521.3" y="38.4" font-size="23" textLength="21.2" lengthAdjust="spacingAndGlyphs">sb</text>
<use href="#ell" x="674.2" y="2"/>
<rect x="669.0" y="7.0" width="9.75" height="1.5"/>
</g>
</svg>
</body></html>
